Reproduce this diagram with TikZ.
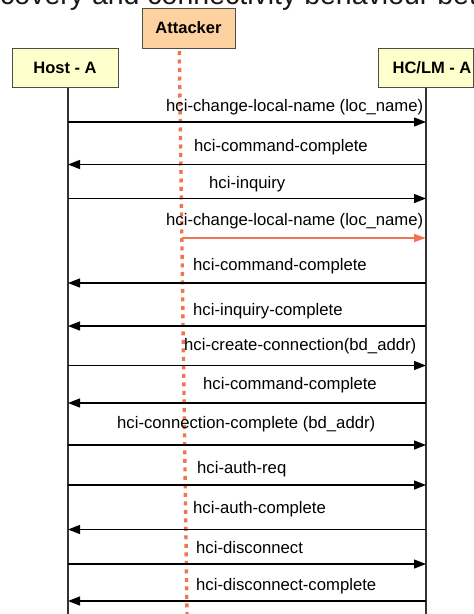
\documentclass[tikz,border=0pt]{standalone}
\usepackage{fontspec}
\setmainfont{Liberation Sans}
\usetikzlibrary{arrows.meta}
\definecolor{atkfill}{HTML}{FDD1A0}
\definecolor{hostfill}{HTML}{FFFFCC}
\definecolor{atk}{HTML}{F07552}
\definecolor{edge}{HTML}{4D4D4D}
\definecolor{life}{HTML}{333333}
\begin{document}
\begin{tikzpicture}[x=1pt,y=-1pt,
  box/.style={draw=edge, line width=1pt, inner sep=0pt,
    font=\bfseries\fontsize{16.5}{20}\selectfont},
  lifeline/.style={draw=life, line width=1.3pt},
  atkline/.style={draw=atk, line width=3.4pt, dash pattern=on 4pt off 4.5pt},
  msg/.style={draw=black, line width=1.3pt, -{Triangle[length=12pt,width=9pt]}},
  atkmsg/.style={draw=atk, line width=1.6pt, -{Triangle[length=12pt,width=8pt]}},
  lbl/.style={anchor=base west, inner sep=0pt, font=\fontsize{16.7}{20}\selectfont}]
\useasboundingbox (0,0) rectangle (474,614);
\clip (0,0) rectangle (474,614);

% title (cropped, as in the reference)
\node[anchor=base west, inner sep=0pt, text=black!90,
  font=\fontsize{28.5}{32}\selectfont] (title) at (0,4.5) {covery and connectivity behaviour betw};

% participant boxes
\node[box, fill=hostfill, minimum width=106pt, minimum height=39pt] (host) at (65,67.5) {Host - A};
\node[box, fill=atkfill, minimum width=93pt, minimum height=40pt] (attacker) at (188.5,28) {Attacker};
\node[box, fill=hostfill, minimum width=95pt, minimum height=39pt] (hclm) at (426,67.5) {\hspace{12pt}HC/LM - A};

% lifelines
\coordinate (hosttop) at (68,87.5);
\coordinate (hostbot) at (68,614);
\coordinate (hctop) at (426,87.5);
\coordinate (hcbot) at (426,614);
\coordinate (atktop) at (179.3,51);
\coordinate (atkbot) at (187,614);
\draw[lifeline] (hosttop) -- (hostbot);
\draw[lifeline] (hctop) -- (hcbot);
\draw[atkline] (atktop) -- (atkbot);

% message end points
\foreach \i/\y in {1/122,2/164.5,3/198.5,5/283,6/326,7/365.5,8/403,9/445,10/485,11/529.5,12/564,13/601}{
  \coordinate (h\i) at (68,\y);
  \coordinate (c\i) at (426,\y);
}
\coordinate (a4) at (181.8,238);
\coordinate (c4) at (426,238);

% messages
\draw[msg] (h1) -- (c1);
\node[lbl] (l1) at (166,111.5) {hci-change-local-name (loc\_name)};
\draw[msg] (c2) -- (h2);
\node[lbl] (l2) at (194,151.5) {hci-command-complete};
\draw[msg] (h3) -- (c3);
\node[lbl] (l3) at (209,188) {hci-inquiry};
\draw[atkmsg] (a4) -- (c4);
\node[lbl] (l4) at (166,225) {hci-change-local-name (loc\_name)};
\draw[msg] (c5) -- (h5);
\node[lbl] (l5) at (193,270) {hci-command-complete};
\draw[msg] (c6) -- (h6);
\node[lbl] (l6) at (193,315) {hci-inquiry-complete};
\draw[msg] (h7) -- (c7);
\node[lbl] (l7) at (184,350) {hci-create-connection(bd\_addr)};
\draw[msg] (c8) -- (h8);
\node[lbl] (l8) at (203,389) {hci-command-complete};
\draw[msg] (h9) -- (c9);
\node[lbl] (l9) at (117,428) {hci-connection-complete (bd\_addr)};
\draw[msg] (h10) -- (c10);
\node[lbl] (l10) at (197,473) {hci-auth-req};
\draw[msg] (c11) -- (h11);
\node[lbl] (l11) at (193,513) {hci-auth-complete};
\draw[msg] (h12) -- (c12);
\node[lbl] (l12) at (196,553) {hci-disconnect};
\draw[msg] (c13) -- (h13);
\node[lbl] (l13) at (196,590) {hci-disconnect-complete};
\end{tikzpicture}
\end{document}
